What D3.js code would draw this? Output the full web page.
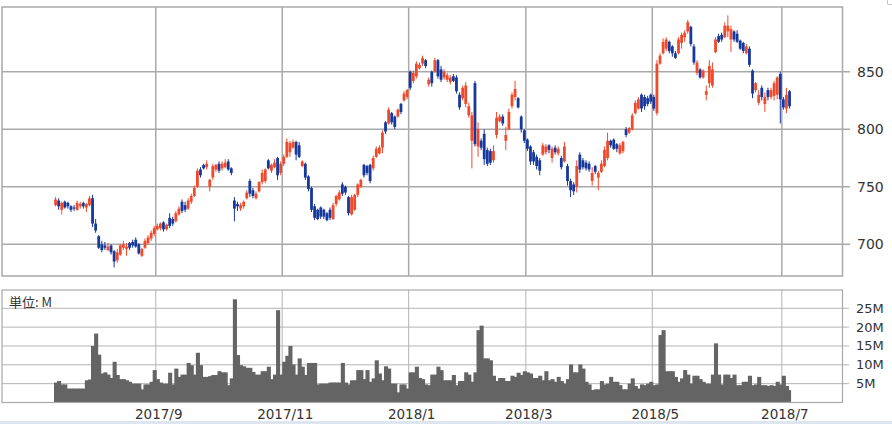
<!DOCTYPE html>
<html><head><meta charset="utf-8">
<script src="https://cdn.jsdelivr.net/npm/d3@7"></script>
<style>html,body{margin:0;padding:0;background:#fff;}svg{display:block;}</style>
</head><body>
<svg id="chart" width="892" height="424"></svg>
<script>
// ---- DATA ----
const startDate = "2017-07-14";
const endDate = "2018-07-05";
const marketHolidays = ["2017-07-17","2017-08-11","2017-09-18","2017-10-09","2017-11-03","2017-11-23",
  "2018-01-01","2018-01-02","2018-01-03","2018-01-08","2018-02-12","2018-03-21","2018-04-30","2018-05-03","2018-05-04"];
const monthTickLabels = ["2017/9","2017/11","2018/1","2018/3","2018/5","2018/7"];
const priceTicks = [700, 750, 800, 850];
const volumeTicks = [5, 10, 15, 20, 25];
const volumeTickLabels = ["5M","10M","15M","20M","25M"];

const open = [734,738,730,737,736,733,732,730,733,736,732,734,740,718,707,700,699,695,699,694,686,691,697,696,701,702,704,700,690,697,701,705,709,713,
714,719,713,723,722,720,726,737,734,731,737,742,750,765,769,767,750,758,765,770,766,767,772,766,738,735,731,733,740,755,747,740,746,754,755,773,764,767,775,762,
770,776,780,784,789,786,768,770,759,749,733,730,732,730,727,730,722,735,739,752,750,741,726,730,743,750,769,768,769,766,776,779,784,806,805,814,811,811,822,825,
828,850,842,846,853,857,860,839,850,850,860,852,845,843,841,846,845,830,827,822,812,790,840,785,790,796,782,781,773,795,807,811,790,800,820,828,827,811,
799,791,785,780,776,773,778,780,786,775,784,779,775,772,768,755,752,750,778,773,771,770,755,768,758,763,768,775,790,791,787,779,781,800,797,800,814,818,830,828,827,
830,828,814,857,866,870,876,872,866,866,875,880,885,889,872,849,852,845,830,840,838,867,881,882,880,885,878,885,883,877,875,866,870,851,834,823,836,822,834,828,829,830,848,826,818,833];
const high = [741,740,737,738,737,734,734,738,737,737,736,742,743,722,708,703,702,701,700,695,696,700,703,701,702,704,706,701,697,705,708,712,716,718,
719,720,718,727,724,729,733,739,737,740,744,751,766,767,770,773,757,770,770,772,772,774,774,767,741,737,736,738,747,757,749,746,755,765,766,774,770,774,776,772,
778,792,790,791,790,789,773,771,760,750,735,731,733,731,728,732,736,743,747,754,751,742,743,744,753,757,770,769,770,777,785,786,799,807,819,815,812,818,823,833,
835,851,851,859,858,864,861,845,851,862,861,855,852,849,847,848,847,832,838,841,823,815,842,806,792,800,784,783,786,815,813,813,802,818,832,842,828,812,
800,792,786,782,778,775,788,787,787,785,786,785,777,789,770,757,754,773,780,775,773,772,767,769,764,773,785,797,791,792,788,788,790,802,802,814,825,828,831,830,829,
831,830,860,866,879,880,877,873,868,880,884,886,895,890,874,860,853,852,838,860,858,880,883,884,893,899,890,886,886,878,876,874,872,852,841,834,838,832,836,836,842,846,850,828,836,834];
const low = [733,730,726,731,731,728,729,729,731,731,728,733,715,710,696,693,695,694,691,680,684,690,695,690,695,697,697,691,689,696,700,703,707,712,
712,711,712,714,716,719,725,727,728,730,735,741,749,758,765,765,746,756,763,762,764,766,764,760,720,729,729,731,739,741,740,739,745,752,753,765,762,766,756,760,
768,775,776,783,773,775,767,756,746,728,721,721,722,722,720,721,721,733,738,742,743,725,725,729,741,749,758,760,753,764,775,778,779,796,804,804,800,810,813,824,
826,834,840,844,852,855,853,837,837,849,844,841,843,841,839,841,831,817,825,819,810,766,785,776,782,769,768,769,771,792,806,803,782,799,818,825,818,797,
788,781,769,769,765,760,777,778,779,771,778,777,765,771,751,741,743,745,762,765,764,763,751,761,747,762,767,773,784,782,780,778,779,793,796,799,813,817,815,817,820,
822,816,812,856,865,868,866,863,861,865,870,876,883,872,856,847,844,844,825,836,836,866,875,876,879,880,867,876,875,869,866,865,854,827,832,821,825,815,825,826,825,826,805,817,814,818];
const close = [739,733,736,732,733,730,731,736,735,733,735,740,718,712,697,695,697,698,693,685,693,699,700,698,697,699,698,692,696,703,706,710,714,716,
718,713,717,716,718,727,731,729,730,738,742,749,764,760,766,770,756,768,769,764,770,771,765,762,731,733,734,737,745,744,742,744,754,762,765,766,769,771,760,770,
776,789,788,789,778,776,772,758,748,730,723,722,724,724,721,723,734,742,745,744,745,727,741,743,752,756,760,762,755,775,783,784,797,798,817,806,802,817,815,831,
834,836,849,857,856,862,855,843,840,860,846,843,850,847,845,842,833,819,836,838,820,812,787,800,784,774,770,771,781,810,811,805,795,815,830,835,819,800,
790,783,772,772,768,764,786,785,782,783,780,783,767,785,755,747,746,768,765,767,766,765,762,763,762,770,782,790,786,783,783,786,789,795,801,812,823,826,818,820,822,
824,818,857,864,876,878,868,866,862,878,882,884,893,874,858,858,845,851,833,855,852,878,876,878,890,890,887,878,876,870,868,872,856,831,840,830,828,828,828,834,840,845,826,819,830,820];
const volume = [5.3,5.7,4.8,4.8,3.7,3.7,3.7,3.7,3.7,3.7,5.9,6.1,15,18.3,12.7,7.7,8.0,7.4,6.5,10.8,7.3,6.2,6.2,5.9,5.5,5.0,5.0,5.0,3.5,4.8,4.8,5.5,8.6,6.2,
5.3,5.0,5.0,7.9,4.8,9.0,6.8,7.4,7.4,10.5,9.9,7.4,13.2,9.9,6.8,6.8,7.0,7.3,7.3,8.3,8.0,8.0,4.6,6.4,27.4,12.6,9.9,9.6,9.2,9.2,8.1,7.4,7.4,8.3,8.3,9.5,6.2,7.4,24.5,7.4,
10.8,12.4,15,10.1,7.4,11.7,9.5,7.3,10.5,10.5,10.5,4.8,5.0,5.0,5.0,5.3,5.3,5.3,5.3,10.5,5.3,4.8,5.9,5.9,8.6,8.6,6.2,8.6,5.5,6.4,11.2,7.7,5.9,9.6,9.0,5.0,5.0,2.7,4.8,4.8,3.7,
8.0,8.0,9.5,6.5,6.2,4.8,4.6,7.4,7.4,9.5,8.6,5.9,5.9,5.9,7.3,4.6,5.7,5.7,8.0,7.4,5.5,8.0,19.2,20.4,11.7,11.7,11.2,7.1,5.7,6.5,6.5,5.7,5.7,7.1,6.8,7.9,7.3,8.3,
8.0,7.7,6.5,6.5,7.1,5.9,8.3,5.9,6.2,5.5,6.8,5.7,5.0,6.2,10.1,8.0,8.0,10.1,9.0,5.5,4.8,3.3,3.5,3.5,5.7,4.8,5.0,6.8,5.5,5.5,4.6,3.5,3.5,5.0,6.4,4.4,3.7,4.8,4.6,5.0,5.5,
4.6,4.8,17.9,19.2,8.3,8.3,8.3,6.8,5.5,6.4,8.6,7.4,5.0,7.1,7.1,6.2,5.5,5.0,5.0,7.4,15.7,7.4,4.8,7.4,7.4,6.5,7.4,4.6,4.6,5.5,5.5,7.1,4.6,4.8,6.8,4.6,4.6,4.4,4.6,4.4,5.5,4.8,7.1,4.4,3.3,3.3];

// ---- trading-day categories ----
const fmt = d3.utcFormat("%Y-%m-%d");
const dates = [];
{
  const hol = new Set(marketHolidays);
  let d = new Date(startDate + "T00:00:00Z");
  const end = new Date(endDate + "T00:00:00Z");
  while (d <= end) {
    const wd = d.getUTCDay();
    const s = fmt(d);
    if (wd !== 0 && wd !== 6 && !hol.has(s)) dates.push(s);
    d = new Date(d.getTime() + 86400000);
  }
}
const n = Math.min(dates.length, open.length);
const data = d3.range(n).map(i => ({date: dates[i], o: open[i], h: high[i], l: low[i], c: close[i], v: volume[i]}));

const monthTicks = monthTickLabels.map(lbl => {
  const [yy, mm] = lbl.split("/").map(Number);
  const key = yy + "-" + String(mm).padStart(2, "0");
  return {label: lbl, date: dates.find(s => s.startsWith(key))};
});

// ---- LAYOUT ----
const svg = d3.select("#chart");
const W = 892, H = 424;
const left = 2, right = 842.5;
const pTop = 7, pBot = 276;
const vTop = 290, vBot = 402.5;
const gridCol = "#a9a9a9";
const upCol = "#f04a2b", downCol = "#17389c";

svg.append("rect").attr("width", W).attr("height", H).attr("fill", "#fff");
svg.append("rect").attr("x", 0).attr("y", 421).attr("width", W).attr("height", 3).attr("fill", "#dde5ef");

const x = d3.scaleBand().domain(data.map(d => d.date)).range([54, 54 + 3.084 * n]).paddingInner(0).paddingOuter(0);
const bw = x.bandwidth();
const y = d3.scaleLinear().domain([700, 850]).range([244.3, 71.7]);
const yv = d3.scaleLinear().domain([0, 25]).range([vBot, 308.3]);

// ---- price panel grid ----
const gp = svg.append("g");
gp.selectAll("line.h").data(priceTicks).join("line")
  .attr("x1", left).attr("x2", 850).attr("y1", d => y(d)).attr("y2", d => y(d))
  .attr("stroke", gridCol).attr("stroke-width", 1.5);
gp.selectAll("line.v").data(monthTicks).join("line")
  .attr("x1", d => x(d.date)).attr("x2", d => x(d.date)).attr("y1", pTop).attr("y2", pBot)
  .attr("stroke", gridCol).attr("stroke-width", 1.5);
gp.append("rect").attr("x", left).attr("y", pTop).attr("width", right - left).attr("height", pBot - pTop)
  .attr("fill", "none").attr("stroke", gridCol).attr("stroke-width", 1.5);
gp.selectAll("text").data(priceTicks).join("text")
  .attr("x", 857).attr("y", d => y(d) + 5)
  .attr("font-family", "DejaVu Sans, sans-serif").attr("font-size", 14).attr("fill", "#333")
  .text(d => d);

// ---- volume panel grid ----
const gv = svg.append("g");
gv.selectAll("line.h").data(volumeTicks).join("line")
  .attr("x1", left).attr("x2", 849).attr("y1", d => yv(d)).attr("y2", d => yv(d))
  .attr("stroke", "#b4b4b4").attr("stroke-width", 1);
gv.selectAll("line.v").data(monthTicks).join("line")
  .attr("x1", d => x(d.date)).attr("x2", d => x(d.date)).attr("y1", vTop).attr("y2", vBot)
  .attr("stroke", "#b4b4b4").attr("stroke-width", 1);

// volume bars (contiguous steps)
gv.append("g").selectAll("rect").data(data).join("rect")
  .attr("x", d => x(d.date)).attr("width", (d, i) => i === n - 1 ? bw : bw + 1)
  .attr("y", d => yv(d.v)).attr("height", d => yv(0) - yv(d.v))
  .attr("fill", "#646464");

gv.append("rect").attr("x", left).attr("y", vTop).attr("width", right - left).attr("height", vBot - vTop)
  .attr("fill", "none").attr("stroke", "#a9a9a9").attr("stroke-width", 1.2);
gv.selectAll("text.vl").data(volumeTicks).join("text")
  .attr("x", 856).attr("y", d => yv(d) + 4.5)
  .attr("font-family", "DejaVu Sans, sans-serif").attr("font-size", 13).attr("fill", "#333")
  .text((d, i) => volumeTickLabels[i]);
gv.append("text").attr("x", 9).attr("y", 307)
  .attr("font-family", "Noto Sans CJK JP, sans-serif").attr("font-size", 13).attr("fill", "#333")
  .text("単位: M");

// month labels
svg.append("g").selectAll("text").data(monthTicks).join("text")
  .attr("x", d => x(d.date) + 3).attr("y", 419).attr("text-anchor", "middle")
  .attr("font-family", "DejaVu Sans, sans-serif").attr("font-size", 13.5).attr("fill", "#333")
  .text(d => d.label);

// ---- candles ----
const gc = svg.append("g");
const cx = d => x(d.date) + bw / 2;
gc.selectAll("line").data(data).join("line")
  .attr("x1", cx).attr("x2", cx).attr("y1", d => y(d.h)).attr("y2", d => y(d.l))
  .attr("stroke", d => d.c >= d.o ? upCol : downCol).attr("stroke-width", 1);
gc.selectAll("rect").data(data).join("rect")
  .attr("x", d => cx(d) - 1.4).attr("width", 2.8)
  .attr("y", d => y(Math.max(d.o, d.c)))
  .attr("height", d => Math.max(1, Math.abs(y(d.o) - y(d.c))))
  .attr("fill", d => d.c >= d.o ? upCol : downCol);

svg.append("path").attr("d", "M887.5,0 V4.5 H892").attr("fill", "none").attr("stroke", "#c8c8c8").attr("stroke-width", 1);
</script>
</body></html>
